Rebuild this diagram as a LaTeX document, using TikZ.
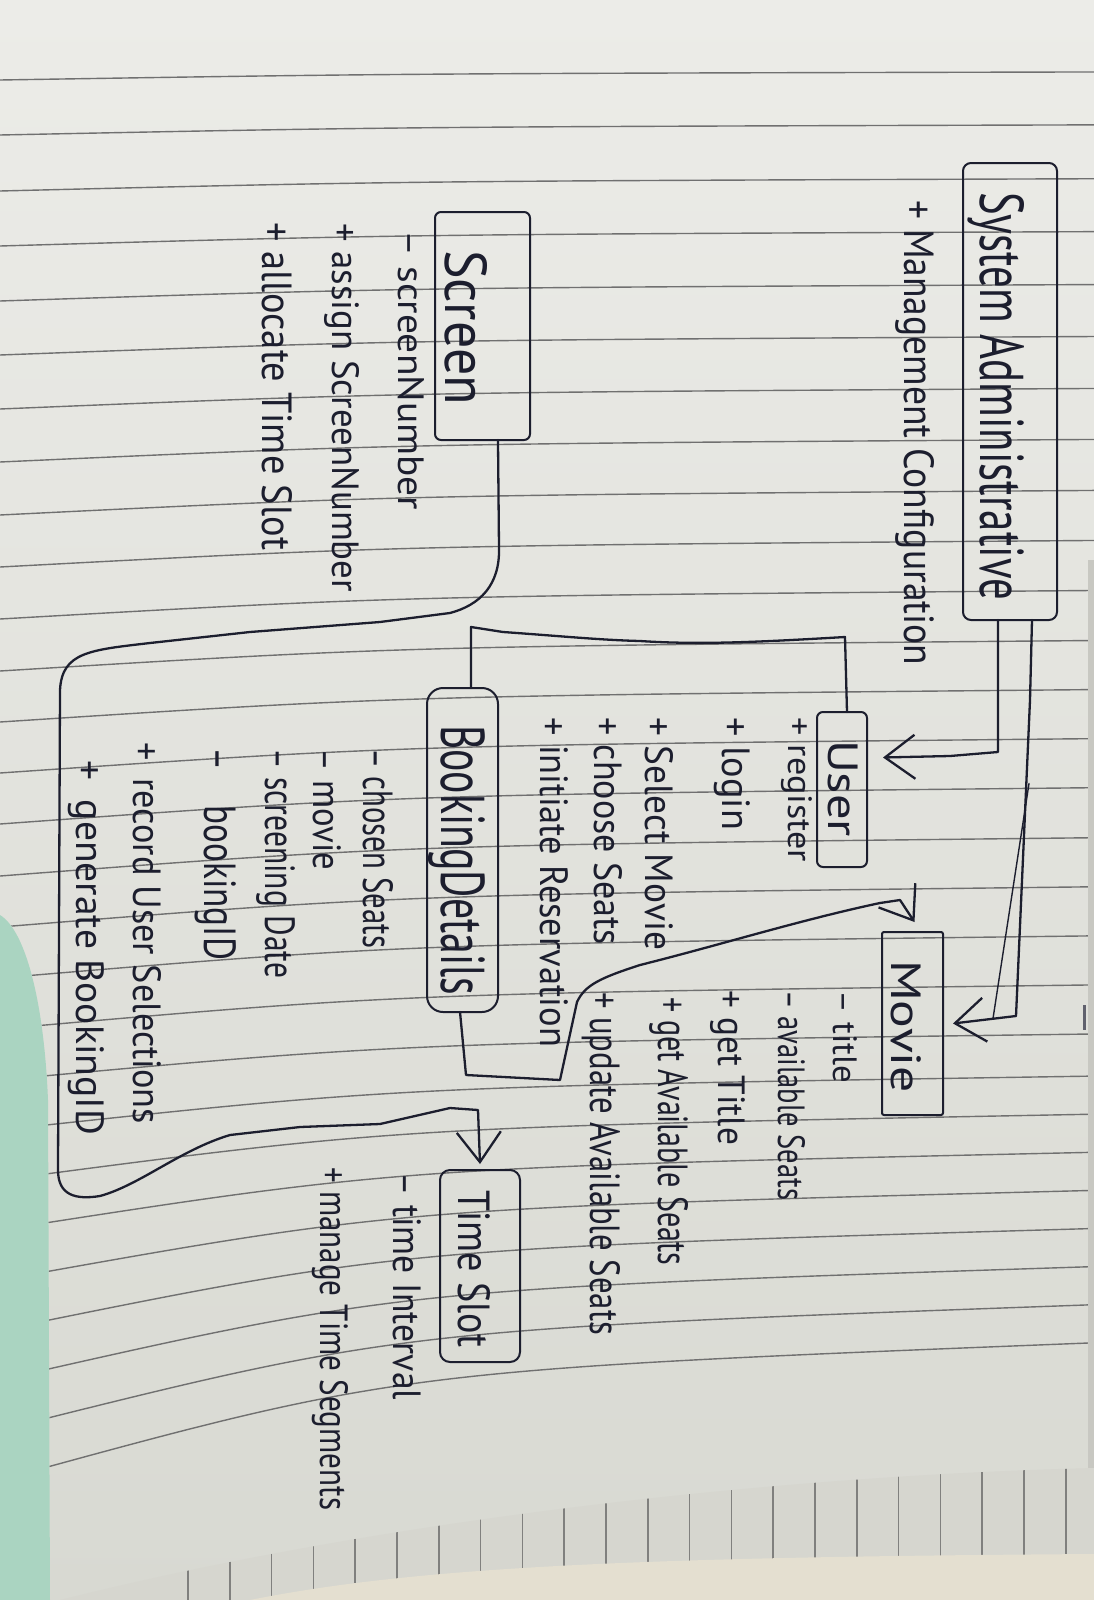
\documentclass[tikz,border=0pt]{standalone}
\usepackage{fontspec}
\setmainfont{PT Sans}
\usepackage{graphicx}
\usetikzlibrary{calc,arrows.meta}

\definecolor{paperTop}{RGB}{236,236,232}
\definecolor{paperBot}{RGB}{216,217,210}
\definecolor{ruleGray}{RGB}{112,112,112}
\definecolor{ink}{RGB}{28,30,46}
\definecolor{mint}{RGB}{170,212,193}
\definecolor{stackGray}{RGB}{214,214,207}
\definecolor{stackLine}{RGB}{128,128,126}
\definecolor{beige}{RGB}{228,223,208}
\definecolor{edgeGray}{RGB}{200,200,194}

% handwritten line: length along the writing, height of the tall letters, text
\newcommand{\hw}[3]{\resizebox{#1pt}{#2pt}{\vphantom{lA}#3}}

\tikzset{
  hand/.style={text=ink, rotate=-90, anchor=base west, inner sep=0pt, outer sep=0pt},
  cls/.style={draw=ink, line width=2pt, inner sep=0pt, outer sep=0pt},
  wire/.style={draw=ink, line width=2.3pt, line join=round, line cap=round},
  arrowV/.style={-{Straight Barb[length=30pt,width=44pt]}},
  ruled/.style={draw=ruleGray, line width=1.4pt},
}

\begin{document}
\begin{tikzpicture}[x=1pt,y=-1pt]
\useasboundingbox (0,0) rectangle (1094,1600);

% the sheet
\shade[top color=paperTop, bottom color=paperBot] (0,0) rectangle (1094,1600);

% ruled lines, bending up towards the lower right
\begin{scope}
  \clip (0,0) -- (1094,0) -- (1094,1468) .. controls (800,1475) and (400,1515) .. (60,1600)
        -- (50,1600) -- (48,1100) .. controls (44,1000) and (25,930) .. (0,915) -- cycle;
  \foreach \yl in {80,135,191,246,301,355,409,462,515,567,619,671,722,773,824,876,927,978,
                   1029,1080,1130,1180,1230,1280,1330,1380,1430,1480} {
    \pgfmathsetmacro\dr{5+0.038*\yl+max(0,\yl-1100)*0.2}
    \pgfmathsetmacro\yc{\yl-0.8*\dr}
    \pgfmathsetmacro\yr{\yl-\dr}
    \draw[ruled] (0,\yl) .. controls (400,\yc) .. (1094,\yr);
  }
\end{scope}

% edge of the sheet below on the right
\fill[edgeGray] (1088,560) rectangle (1094,1468);
\draw[ink!70, line width=3pt] (1084,1005) -- (1084,1030);

% edges of the pages underneath
\fill[stackGray] (1094,1468) .. controls (800,1475) and (400,1515) .. (60,1600) -- (1094,1600) -- cycle;
\begin{scope}
  \clip (1094,1468) .. controls (800,1475) and (400,1515) .. (60,1600) -- (1094,1600) -- cycle;
  \foreach \k in {0,...,21} {
    \draw[stackLine, line width=1.5pt] (188+41.8*\k,1440) -- (188+41.8*\k,1600);
  }
  \fill[beige] (250,1600) .. controls (420,1566) and (650,1557) .. (1094,1554) -- (1094,1600) -- cycle;
\end{scope}

% green cover at the left
\fill[mint] (0,915) .. controls (25,930) and (44,1000) .. (48,1100) -- (50,1600) -- (0,1600) -- cycle;

% ---------------- classes ----------------
% System Administrative
\node[cls, rounded corners=8pt, minimum width=94pt, minimum height=457pt] (sa) at (1010,391.5) {};
\node[hand] (saT) at (980,192) {\hw{408}{44}{System Administrative}};
\node[hand] (saM1) at (904,200) {\hw{465}{30}{+ Management Configuration}};

% Screen
\node[cls, rounded corners=6pt, minimum width=95pt, minimum height=228pt] (scr) at (482.5,326) {};
\node[hand] (scrT) at (445,250) {\hw{155}{42}{Screen}};
\node[hand] (scrA1) at (398,230) {\hw{280}{26}{-- screenNumber}};
\node[hand] (scrM1) at (332,223) {\hw{369}{27}{+ assign ScreenNumber}};
\node[hand] (scrM2) at (262,222) {\hw{328}{30}{+ allocate Time Slot}};

% User
\node[cls, rounded corners=6pt, minimum width=50pt, minimum height=155pt] (usr) at (842,789.5) {};
\node[hand] (usrT) at (828,740) {\hw{97}{30}{User}};
\node[hand] (usrM1) at (788,717) {\hw{145}{24}{+ register}};
\node[hand] (usrM2) at (722,717) {\hw{113}{28}{+ login}};
\node[hand] (usrM3) at (645,717) {\hw{233}{28}{+ Select Movie}};
\node[hand] (usrM4) at (594,717) {\hw{228}{28}{+ choose Seats}};
\node[hand] (usrM5) at (540,717) {\hw{330}{28}{+ initiate Reservation}};

% Movie
\node[cls, rounded corners=2pt, minimum width=61pt, minimum height=183pt] (mov) at (912.5,1023.5) {};
\node[hand] (movT) at (891,960) {\hw{133}{30}{Movie}};
\node[hand] (movA1) at (833,990) {\hw{93}{24}{-- title}};
\node[hand] (movA2) at (778,990) {\hw{210}{27}{-- available Seats}};
\node[hand] (movM1) at (718,990) {\hw{155}{27}{+ get Title}};
\node[hand] (movM2) at (658,997) {\hw{268}{30}{+ get Available Seats}};
\node[hand] (movM3) at (590,992) {\hw{343}{30}{+ update Available Seats}};

% Booking Details
\node[cls, rounded corners=16pt, minimum width=71pt, minimum height=324pt] (bd) at (462.5,850) {};
\node[hand] (bdT) at (441,725) {\hw{270}{44}{BookingDetails}};
\node[hand] (bdA1) at (363,748) {\hw{200}{30}{-- chosen Seats}};
\node[hand] (bdA2) at (313,748) {\hw{122}{28}{-- movie}};
\node[hand] (bdA3) at (265,748) {\hw{230}{30}{-- screening Date}};
\node[hand] (bdA4) at (204,747) {\hw{213}{32}{--\quad bookingID}};
\node[hand] (bdM1) at (133,742) {\hw{382}{28}{+\enspace record User Selections}};
\node[hand] (bdM2) at (76,760) {\hw{375}{28}{+\enspace generate BookingID}};

% Time Slot
\node[cls, rounded corners=10pt, minimum width=80pt, minimum height=192pt] (ts) at (480,1266) {};
\node[hand] (tsT) at (458,1190) {\hw{157}{32}{Time Slot}};
\node[hand] (tsA1) at (393,1172) {\hw{228}{28}{-- time Interval}};
\node[hand] (tsM1) at (320,1167) {\hw{343}{28}{+ manage Time Segments}};

% ---------------- connectors ----------------
% Screen -> Time Slot, looping round Booking Details
\draw[wire, arrowV] ($(scr.south west)!0.663!(scr.south east)$) -- (499,548)
  .. controls (500,585) and (480,605) .. (450,613) -- (380,622) -- (250,632) -- (150,643)
  .. controls (90,650) and (62,652) .. (60,690) -- (58,1170)
  .. controls (58,1195) and (75,1200) .. (100,1196)
  .. controls (140,1185) and (180,1150) .. (230,1135)
  -- (300,1127) -- (380,1124) -- (450,1108) -- (478,1110) -- ($(ts.north)+(0,-6)$);

% Booking Details -> User
\draw[wire] ($(bd.north west)!0.62!(bd.north east)$) -- (471,627) -- (503,632)
  .. controls (560,636) and (600,640) .. (640,641)
  .. controls (700,645) and (760,642) .. (845,637)
  -- ($(usr.north west)!0.6!(usr.north east)$);

% Booking Details -> Movie
\draw[wire, arrowV] ($(bd.south west)!0.465!(bd.south east)$) -- (466,1075) -- (560,1080) -- (577,1002)
  .. controls (585,985) and (600,978) .. (640,965)
  .. controls (720,945) and (800,920) .. (880,903) -- (900,900) -- ($(mov.north)+(2,-10)$);

% System Administrative -> User
\draw[wire, arrowV] ($(sa.south west)!0.372!(sa.south east)$) -- (998,752) -- (950,756)
  -- ($(usr.east)+(16,-32)$);

% System Administrative -> Movie
\draw[wire, arrowV] ($(sa.south west)!0.734!(sa.south east)$) -- (1030,700) -- (1016,1016)
  -- ($(mov.east)+(10,0)$);
\draw[draw=ink, line width=1.4pt, line cap=round] ($(mov.east)+(86,-240)$) -- ($(mov.east)+(50,-5)$);

\end{tikzpicture}
\end{document}
